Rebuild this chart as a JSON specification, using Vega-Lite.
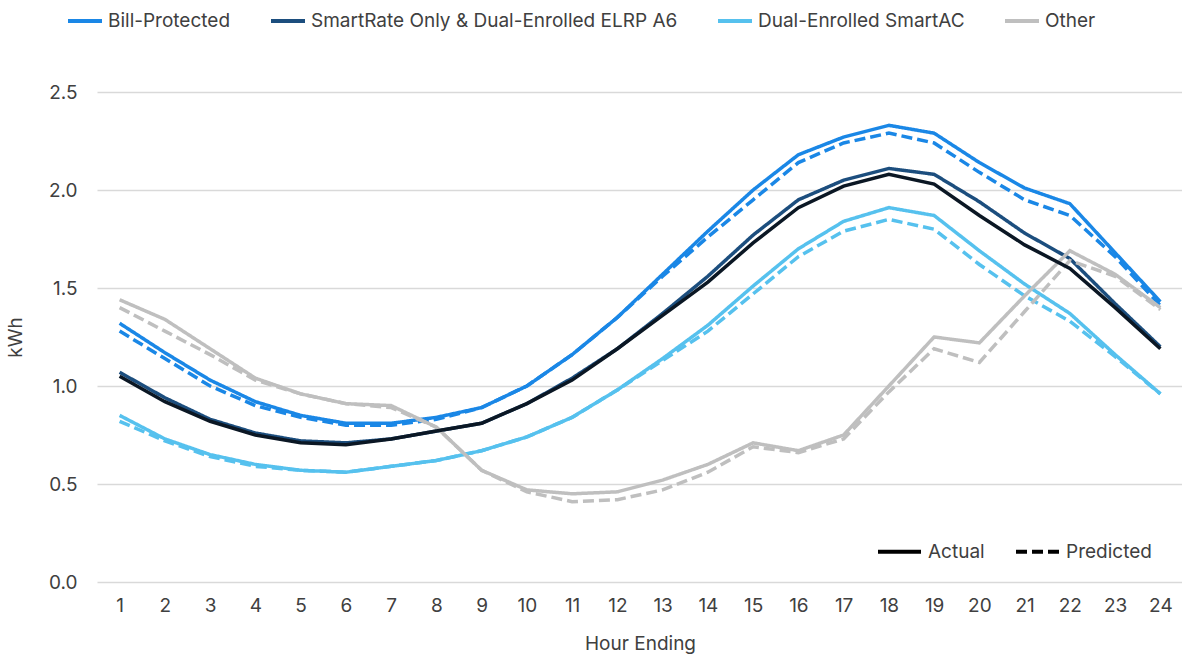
{
  "$schema": "https://vega.github.io/schema/vega-lite/v6.json",
  "width": 1086,
  "height": 490,
  "autosize": {"type": "none"},
  "padding": {"left": 97, "top": 92, "right": 0, "bottom": 74},
  "background": "white",
  "config": {
    "font": "Inter",
    "view": {"stroke": null},
    "axis": {"labelFont": "Inter", "titleFont": "Inter", "labelFontSize": 19, "titleFontSize": 19, "labelColor": "#404040", "titleColor": "#404040", "titleFontWeight": "normal", "gridColor": "#d9d9d9", "gridWidth": 1.5},
    "legend": {"labelFont": "Inter", "labelFontSize": 19, "labelColor": "#404040", "labelLimit": 600}
  },
  "data": {
    "values": [
      {"hour": 1, "series": "Bill-Protected", "Actual": 1.32, "Predicted": 1.28},
      {"hour": 2, "series": "Bill-Protected", "Actual": 1.17, "Predicted": 1.14},
      {"hour": 3, "series": "Bill-Protected", "Actual": 1.03, "Predicted": 1.00},
      {"hour": 4, "series": "Bill-Protected", "Actual": 0.92, "Predicted": 0.90},
      {"hour": 5, "series": "Bill-Protected", "Actual": 0.85, "Predicted": 0.84},
      {"hour": 6, "series": "Bill-Protected", "Actual": 0.81, "Predicted": 0.80},
      {"hour": 7, "series": "Bill-Protected", "Actual": 0.81, "Predicted": 0.80},
      {"hour": 8, "series": "Bill-Protected", "Actual": 0.84, "Predicted": 0.83},
      {"hour": 9, "series": "Bill-Protected", "Actual": 0.89, "Predicted": 0.89},
      {"hour": 10, "series": "Bill-Protected", "Actual": 1.00, "Predicted": 1.00},
      {"hour": 11, "series": "Bill-Protected", "Actual": 1.16, "Predicted": 1.16},
      {"hour": 12, "series": "Bill-Protected", "Actual": 1.35, "Predicted": 1.35},
      {"hour": 13, "series": "Bill-Protected", "Actual": 1.57, "Predicted": 1.56},
      {"hour": 14, "series": "Bill-Protected", "Actual": 1.79, "Predicted": 1.76},
      {"hour": 15, "series": "Bill-Protected", "Actual": 2.00, "Predicted": 1.95},
      {"hour": 16, "series": "Bill-Protected", "Actual": 2.18, "Predicted": 2.14},
      {"hour": 17, "series": "Bill-Protected", "Actual": 2.27, "Predicted": 2.24},
      {"hour": 18, "series": "Bill-Protected", "Actual": 2.33, "Predicted": 2.29},
      {"hour": 19, "series": "Bill-Protected", "Actual": 2.29, "Predicted": 2.24},
      {"hour": 20, "series": "Bill-Protected", "Actual": 2.14, "Predicted": 2.09},
      {"hour": 21, "series": "Bill-Protected", "Actual": 2.01, "Predicted": 1.95},
      {"hour": 22, "series": "Bill-Protected", "Actual": 1.93, "Predicted": 1.87},
      {"hour": 23, "series": "Bill-Protected", "Actual": 1.68, "Predicted": 1.66},
      {"hour": 24, "series": "Bill-Protected", "Actual": 1.43, "Predicted": 1.41},
      {"hour": 1, "series": "SmartRate Only & Dual-Enrolled ELRP A6", "Actual": 1.07, "Predicted": 1.05},
      {"hour": 2, "series": "SmartRate Only & Dual-Enrolled ELRP A6", "Actual": 0.94, "Predicted": 0.92},
      {"hour": 3, "series": "SmartRate Only & Dual-Enrolled ELRP A6", "Actual": 0.83, "Predicted": 0.82},
      {"hour": 4, "series": "SmartRate Only & Dual-Enrolled ELRP A6", "Actual": 0.76, "Predicted": 0.75},
      {"hour": 5, "series": "SmartRate Only & Dual-Enrolled ELRP A6", "Actual": 0.72, "Predicted": 0.71},
      {"hour": 6, "series": "SmartRate Only & Dual-Enrolled ELRP A6", "Actual": 0.71, "Predicted": 0.70},
      {"hour": 7, "series": "SmartRate Only & Dual-Enrolled ELRP A6", "Actual": 0.73, "Predicted": 0.73},
      {"hour": 8, "series": "SmartRate Only & Dual-Enrolled ELRP A6", "Actual": 0.77, "Predicted": 0.77},
      {"hour": 9, "series": "SmartRate Only & Dual-Enrolled ELRP A6", "Actual": 0.81, "Predicted": 0.81},
      {"hour": 10, "series": "SmartRate Only & Dual-Enrolled ELRP A6", "Actual": 0.91, "Predicted": 0.91},
      {"hour": 11, "series": "SmartRate Only & Dual-Enrolled ELRP A6", "Actual": 1.04, "Predicted": 1.03},
      {"hour": 12, "series": "SmartRate Only & Dual-Enrolled ELRP A6", "Actual": 1.19, "Predicted": 1.19},
      {"hour": 13, "series": "SmartRate Only & Dual-Enrolled ELRP A6", "Actual": 1.37, "Predicted": 1.36},
      {"hour": 14, "series": "SmartRate Only & Dual-Enrolled ELRP A6", "Actual": 1.56, "Predicted": 1.53},
      {"hour": 15, "series": "SmartRate Only & Dual-Enrolled ELRP A6", "Actual": 1.77, "Predicted": 1.73},
      {"hour": 16, "series": "SmartRate Only & Dual-Enrolled ELRP A6", "Actual": 1.95, "Predicted": 1.91},
      {"hour": 17, "series": "SmartRate Only & Dual-Enrolled ELRP A6", "Actual": 2.05, "Predicted": 2.02},
      {"hour": 18, "series": "SmartRate Only & Dual-Enrolled ELRP A6", "Actual": 2.11, "Predicted": 2.08},
      {"hour": 19, "series": "SmartRate Only & Dual-Enrolled ELRP A6", "Actual": 2.08, "Predicted": 2.03},
      {"hour": 20, "series": "SmartRate Only & Dual-Enrolled ELRP A6", "Actual": 1.94, "Predicted": 1.87},
      {"hour": 21, "series": "SmartRate Only & Dual-Enrolled ELRP A6", "Actual": 1.78, "Predicted": 1.72},
      {"hour": 22, "series": "SmartRate Only & Dual-Enrolled ELRP A6", "Actual": 1.65, "Predicted": 1.60},
      {"hour": 23, "series": "SmartRate Only & Dual-Enrolled ELRP A6", "Actual": 1.42, "Predicted": 1.40},
      {"hour": 24, "series": "SmartRate Only & Dual-Enrolled ELRP A6", "Actual": 1.20, "Predicted": 1.19},
      {"hour": 1, "series": "Dual-Enrolled SmartAC", "Actual": 0.85, "Predicted": 0.82},
      {"hour": 2, "series": "Dual-Enrolled SmartAC", "Actual": 0.73, "Predicted": 0.72},
      {"hour": 3, "series": "Dual-Enrolled SmartAC", "Actual": 0.65, "Predicted": 0.64},
      {"hour": 4, "series": "Dual-Enrolled SmartAC", "Actual": 0.60, "Predicted": 0.59},
      {"hour": 5, "series": "Dual-Enrolled SmartAC", "Actual": 0.57, "Predicted": 0.57},
      {"hour": 6, "series": "Dual-Enrolled SmartAC", "Actual": 0.56, "Predicted": 0.56},
      {"hour": 7, "series": "Dual-Enrolled SmartAC", "Actual": 0.59, "Predicted": 0.59},
      {"hour": 8, "series": "Dual-Enrolled SmartAC", "Actual": 0.62, "Predicted": 0.62},
      {"hour": 9, "series": "Dual-Enrolled SmartAC", "Actual": 0.67, "Predicted": 0.67},
      {"hour": 10, "series": "Dual-Enrolled SmartAC", "Actual": 0.74, "Predicted": 0.74},
      {"hour": 11, "series": "Dual-Enrolled SmartAC", "Actual": 0.84, "Predicted": 0.84},
      {"hour": 12, "series": "Dual-Enrolled SmartAC", "Actual": 0.98, "Predicted": 0.98},
      {"hour": 13, "series": "Dual-Enrolled SmartAC", "Actual": 1.14, "Predicted": 1.13},
      {"hour": 14, "series": "Dual-Enrolled SmartAC", "Actual": 1.31, "Predicted": 1.28},
      {"hour": 15, "series": "Dual-Enrolled SmartAC", "Actual": 1.51, "Predicted": 1.47},
      {"hour": 16, "series": "Dual-Enrolled SmartAC", "Actual": 1.70, "Predicted": 1.66},
      {"hour": 17, "series": "Dual-Enrolled SmartAC", "Actual": 1.84, "Predicted": 1.79},
      {"hour": 18, "series": "Dual-Enrolled SmartAC", "Actual": 1.91, "Predicted": 1.85},
      {"hour": 19, "series": "Dual-Enrolled SmartAC", "Actual": 1.87, "Predicted": 1.80},
      {"hour": 20, "series": "Dual-Enrolled SmartAC", "Actual": 1.69, "Predicted": 1.62},
      {"hour": 21, "series": "Dual-Enrolled SmartAC", "Actual": 1.52, "Predicted": 1.46},
      {"hour": 22, "series": "Dual-Enrolled SmartAC", "Actual": 1.37, "Predicted": 1.33},
      {"hour": 23, "series": "Dual-Enrolled SmartAC", "Actual": 1.16, "Predicted": 1.15},
      {"hour": 24, "series": "Dual-Enrolled SmartAC", "Actual": 0.96, "Predicted": 0.96},
      {"hour": 1, "series": "Other", "Actual": 1.44, "Predicted": 1.40},
      {"hour": 2, "series": "Other", "Actual": 1.34, "Predicted": 1.28},
      {"hour": 3, "series": "Other", "Actual": 1.19, "Predicted": 1.16},
      {"hour": 4, "series": "Other", "Actual": 1.04, "Predicted": 1.03},
      {"hour": 5, "series": "Other", "Actual": 0.96, "Predicted": 0.96},
      {"hour": 6, "series": "Other", "Actual": 0.91, "Predicted": 0.91},
      {"hour": 7, "series": "Other", "Actual": 0.90, "Predicted": 0.89},
      {"hour": 8, "series": "Other", "Actual": 0.79, "Predicted": 0.79},
      {"hour": 9, "series": "Other", "Actual": 0.57, "Predicted": 0.57},
      {"hour": 10, "series": "Other", "Actual": 0.47, "Predicted": 0.46},
      {"hour": 11, "series": "Other", "Actual": 0.45, "Predicted": 0.41},
      {"hour": 12, "series": "Other", "Actual": 0.46, "Predicted": 0.42},
      {"hour": 13, "series": "Other", "Actual": 0.52, "Predicted": 0.47},
      {"hour": 14, "series": "Other", "Actual": 0.60, "Predicted": 0.56},
      {"hour": 15, "series": "Other", "Actual": 0.71, "Predicted": 0.69},
      {"hour": 16, "series": "Other", "Actual": 0.67, "Predicted": 0.66},
      {"hour": 17, "series": "Other", "Actual": 0.75, "Predicted": 0.73},
      {"hour": 18, "series": "Other", "Actual": 1.00, "Predicted": 0.97},
      {"hour": 19, "series": "Other", "Actual": 1.25, "Predicted": 1.19},
      {"hour": 20, "series": "Other", "Actual": 1.22, "Predicted": 1.12},
      {"hour": 21, "series": "Other", "Actual": 1.46, "Predicted": 1.38},
      {"hour": 22, "series": "Other", "Actual": 1.69, "Predicted": 1.64},
      {"hour": 23, "series": "Other", "Actual": 1.57, "Predicted": 1.56},
      {"hour": 24, "series": "Other", "Actual": 1.40, "Predicted": 1.39}
    ]
  },
  "transform": [{"fold": ["Actual", "Predicted"], "as": ["type", "kwh"]}],
  "encoding": {
    "x": {
      "field": "hour", "type": "ordinal",
      "scale": {"type": "point", "padding": 0.5},
      "axis": {"title": "Hour Ending", "labelAngle": 0, "grid": false, "ticks": false, "domain": false, "labelPadding": 14, "titleX": 543, "titleY": 61, "titleBaseline": "middle", "titleAlign": "center"}
    },
    "y": {
      "field": "kwh", "type": "quantitative",
      "scale": {"domain": [0, 2.5]},
      "axis": {"title": "kWh", "values": [0, 0.5, 1, 1.5, 2, 2.5], "format": ".1f", "grid": true, "ticks": false, "domain": false, "labelPadding": 20, "titleX": -82, "titleY": 245, "titleBaseline": "middle", "titleAlign": "center", "titleAngle": -90}
    }
  },
  "layer": [
    {
      "transform": [{"filter": "datum.series !== 'SmartRate Only & Dual-Enrolled ELRP A6' || datum.type === 'Actual'"}],
      "mark": {"type": "line", "strokeWidth": 3.5},
      "encoding": {
        "color": {
          "field": "series", "type": "nominal",
          "scale": {"domain": ["Bill-Protected", "SmartRate Only & Dual-Enrolled ELRP A6", "Dual-Enrolled SmartAC", "Other"], "range": ["#1a87e6", "#1c4e7e", "#56c1ee", "#bfbfbf"]},
          "legend": {"title": null, "orient": "none", "direction": "horizontal", "legendX": -31, "legendY": -90, "symbolType": "stroke", "symbolSize": 1156, "symbolStrokeWidth": 4, "labelOffset": 4, "columnPadding": 32}
        },
        "strokeDash": {
          "field": "type", "type": "nominal",
          "scale": {"domain": ["Actual", "Predicted"], "range": [[1, 0], [11, 5]]},
          "legend": {"title": null, "orient": "none", "direction": "horizontal", "legendX": 779, "legendY": 436, "symbolType": "stroke", "symbolSize": 1849, "symbolStrokeWidth": 4, "symbolStrokeColor": "black", "labelOffset": 5, "columnPadding": 23}
        },
        "detail": {"field": "type"}
      }
    },
    {
      "transform": [{"filter": "datum.series === 'SmartRate Only & Dual-Enrolled ELRP A6' && datum.type === 'Predicted'"}],
      "mark": {"type": "line", "strokeWidth": 3.5, "color": "#0b1724"},
      "encoding": {}
    }
  ]
}
